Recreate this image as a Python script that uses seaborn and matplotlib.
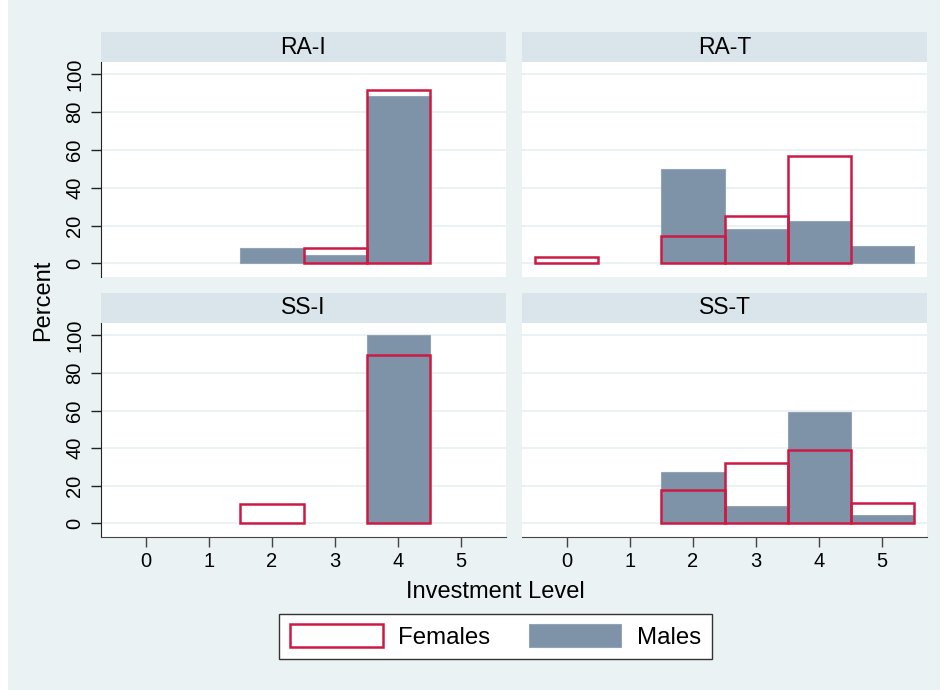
import numpy as np
import pandas as pd
import seaborn as sns
import matplotlib.pyplot as plt
from matplotlib.patches import Patch, Rectangle

# Percent of subjects at each investment level (0-5), by treatment and sex
levels = [0, 1, 2, 3, 4, 5]
treatments = ["RA-I", "RA-T", "SS-I", "SS-T"]
males = {
    "RA-I": [0, 0, 8.1, 4.2, 88.6, 0],
    "RA-T": [0, 0, 50.0, 18.2, 22.7, 9.1],
    "SS-I": [0, 0, 0, 0, 100.0, 0],
    "SS-T": [0, 0, 27.3, 9.1, 59.1, 4.5],
}
females = {
    "RA-I": [0, 0, 0, 8.3, 91.7, 0],
    "RA-T": [3.6, 0, 14.3, 25.0, 57.1, 0],
    "SS-I": [0, 0, 10.5, 0, 89.5, 0],
    "SS-T": [0, 0, 17.9, 32.1, 39.3, 10.7],
}
yticks = [0, 20, 40, 60, 80, 100]

rows = []
for t in treatments:
    for lv, m, f in zip(levels, males[t], females[t]):
        rows.append({"treatment": t, "level": lv, "sex": "Males", "pct": m})
        rows.append({"treatment": t, "level": lv, "sex": "Females", "pct": f})
df = pd.DataFrame(rows)

bg = "#EAF2F3"
strip_col = "#D9E5EA"
male_col = "#7F93A8"
fem_col = "#CC1A45"
dark = "#222222"

plt.rcParams["font.family"] = ["Liberation Sans", "DejaVu Sans"]

W, H = 949, 690
fig = plt.figure(figsize=(W / 100, H / 100), dpi=100, facecolor="white")
fig.patches.append(Rectangle((8 / W, 0), (940 - 8) / W, 1, transform=fig.transFigure,
                             facecolor=bg, edgecolor="none", zorder=-10))

# panel boxes in pixels: (left, top, right, bottom)
boxes = {
    "RA-I": (101, 62, 506, 277),
    "RA-T": (522, 62, 927, 277),
    "SS-I": (101, 323, 506, 537),
    "SS-T": (522, 323, 927, 537),
}

for i, t in enumerate(treatments):
    l, tp, r, b = boxes[t]
    ax = fig.add_axes([l / W, 1 - b / H, (r - l) / W, (b - tp) / H])
    ax.set_facecolor("white")
    sub = df[(df.treatment == t) & (df.pct > 0)]
    sns.barplot(data=sub[sub.sex == "Males"], x="level", y="pct", order=levels,
                width=1, color=male_col, saturation=1, errorbar=None,
                edgecolor="#93A4B6", linewidth=0.8, ax=ax, zorder=2)
    sns.barplot(data=sub[sub.sex == "Females"], x="level", y="pct", order=levels,
                width=1, color=fem_col, fill=False, errorbar=None,
                linewidth=1.8, ax=ax, zorder=3)
    ax.set_xlim(-0.71, 5.71)
    ax.set_ylim(-7.2, 106.6)
    ax.set_yticks(yticks)
    ax.set_xticks(levels)
    ax.set_xticklabels([str(v) for v in levels])
    ax.set_axisbelow(True)
    ax.yaxis.grid(True, color=bg, linewidth=1.4)
    ax.xaxis.grid(False)
    ax.set_xlabel("")
    ax.set_ylabel("")
    for s in ax.spines.values():
        s.set_visible(False)
    left_col = i % 2 == 0
    bottom_row = i >= 2
    if left_col:
        ax.spines["left"].set_visible(True)
        ax.spines["left"].set_color(dark)
        ax.tick_params(axis="y", length=7, width=1, color=dark, labelsize=14.5,
                       pad=5, labelrotation=90)
        for lab in ax.get_yticklabels():
            lab.set_va("center")
    else:
        ax.tick_params(axis="y", left=False, labelleft=False)
    if bottom_row:
        ax.spines["bottom"].set_visible(True)
        ax.spines["bottom"].set_color("#444444")
        ax.tick_params(axis="x", length=7, width=1, color="#444444", labelsize=14.5, pad=4)
    else:
        ax.tick_params(axis="x", bottom=False, labelbottom=False)
    # strip header
    sh = 30 / (b - tp)
    ax.add_patch(Rectangle((0, 1), 1, sh, transform=ax.transAxes, facecolor=strip_col,
                           edgecolor="none", clip_on=False))
    ax.text(0.5, 1 + sh / 2, t, transform=ax.transAxes, ha="center", va="center",
            fontsize=16.5, color="black")

fig.text(43 / W, 1 - 300 / H, "Percent", rotation=90, ha="center", va="center", fontsize=17)
fig.text(495 / W, 1 - 592 / H, "Investment Level", ha="center", va="center", fontsize=17)

handles = [Patch(facecolor="white", edgecolor=fem_col, linewidth=1.8, label="Females"),
           Patch(facecolor=male_col, edgecolor="#93A4B6", linewidth=0.8, label="Males")]
leg = fig.legend(handles=handles, loc="center", bbox_to_anchor=(495.5 / W, 1 - 636.5 / H),
                 ncol=2, fontsize=17.3, handlelength=3.85, handleheight=1.05,
                 handletextpad=0.65, columnspacing=1.6, borderpad=0.45,
                 frameon=True, fancybox=False, edgecolor="#333333", framealpha=1)
leg.get_frame().set_linewidth(1.0)

fig.savefig("out.png", dpi=100, facecolor=fig.get_facecolor())
